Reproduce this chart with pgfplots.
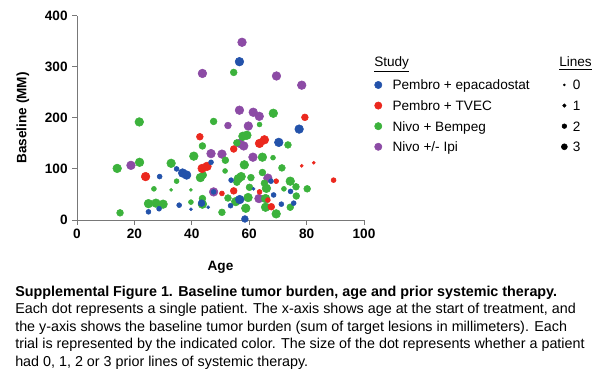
\documentclass[border=0pt]{standalone}
\usepackage{fontspec}
\setmainfont{Liberation Sans}
\usepackage{pgfplots}
\usepackage{pgfplotstable}
\pgfplotsset{compat=1.18}
\definecolor{cBlue}{RGB}{35,82,170}
\definecolor{cRed}{RGB}{235,40,30}
\definecolor{cGreen}{RGB}{60,178,60}
\definecolor{cPurple}{RGB}{140,75,165}
\definecolor{axgray}{RGB}{120,120,120}

\pgfplotstableread{
x y s
56.6 310 3
46.7 113 1
34.7 100 1
36.8 92 3
38.2 88 3
28.8 85 1
47.6 55 1
35.6 29 1
45.7 25 0
28.6 22 1
24.9 16 1
39.7 21 0
53.7 78 1
43.4 33 2
53.5 28 1
56.7 40 3
70.3 152 3
77.4 178 3
67.6 76 1
61.5 61 0
74.4 56 1
68.5 49 1
75.5 33 1
71.2 31 1
58.5 2 2
}\blue

\pgfplotstableread{
x y s
42.8 163 2
43.6 101 3
45.3 105 3
23.9 85 3
54.6 139 2
63.6 150 3
65.3 157 3
79.4 201 2
78.3 106 0
82.5 112 0
89.4 78 1
69.4 76 1
50.5 52 1
54.6 57 2
63.6 55 1
66.5 39 1
67.7 26 2
}\red

\pgfplotstableread{
x y s
21.7 192 3
47.6 193 2
54.6 289 2
68.4 209 3
43.7 145 2
40.7 125 3
32.8 111 3
21.8 113 3
14.0 101 3
43.0 83 3
44.0 88 2
34.7 76 1
26.8 61 1
32.8 59 0
39.7 59 0
43.7 42 2
39.7 35 1
24.9 32 3
27.5 33 3
30.0 31 3
43.7 31 3
15.0 14 2
51.7 117 2
51.6 96 1
55.7 74 2
52.6 43 2
50.5 15 2
63.6 187 1
57.8 164 3
59.2 166 3
55.7 151 2
73.5 147 2
64.6 123 3
68.3 122 1
58.3 108 3
71.4 102 2
64.6 93 2
56.2 81 3
57.2 85 3
60.6 83 2
74.3 76 3
65.3 72 2
60.1 64 2
66.0 62 3
72.1 61 1
76.3 65 2
59.6 44 3
65.7 42 3
55.3 36 3
65.7 25 3
74.3 25 2
80.2 61 2
76.4 47 2
69.4 12 3
58.8 23 3
}\green

\pgfplotstableread{
x y s
43.7 287 3
57.5 348 3
69.5 282 3
78.3 264 3
56.6 215 3
61.4 211 3
63.5 203 3
46.7 130 3
18.8 107 3
47.6 55 3
52.6 185 2
50.5 129 3
59.7 184 3
56.7 150 3
58.1 145 3
61.3 123 3
66.5 82 3
63.4 42 3
}\purple

\pgfplotsset{dots/.style={scatter, only marks, mark=*,
  scatter/use mapped color={draw=#1, fill=#1},
  visualization depends on={\thisrow{s} \as \msz},
  scatter/@pre marker code/.append style={/tikz/mark size={1.15pt+0.7pt*\msz}},
  forget plot}}

\newcommand{\fs}{\fontsize{10.2pt}{12pt}\selectfont}
\newcommand{\fc}{\fontsize{10.75pt}{12pt}\selectfont}
\begin{document}
\begin{tikzpicture}
\useasboundingbox (0,0) rectangle (450pt,279.75pt);
\begin{axis}[
 at={(57.75pt,114.75pt)}, anchor=south west,
 scale only axis, width=215.25pt, height=153.2pt,
 xmin=0, xmax=100, ymin=0, ymax=400,
 xtick={0,20,...,100}, ytick={0,100,...,400},
 axis x line*=bottom, axis y line*=left,
 axis line style={axgray, line width=0.7pt},
 major tick style={axgray, line width=0.7pt},
 tick align=outside, major tick length=3.5pt,
 /pgf/number format/assume math mode=true,
 tick label style={font=\fs\bfseries},
 xlabel={Age}, ylabel={Baseline (MM)},
 label style={font=\fs\bfseries},
 xlabel style={at={(axis description cs:0.5,-0.230)}, anchor=center},
 ylabel style={at={(axis description cs:-0.189,0.5)}, anchor=center},
 clip=false,
 legend columns=2,
 legend style={draw=none, fill=none, inner sep=0pt, outer sep=0pt,
   at={(1.0361,0.6848)}, anchor=north west, font=\fs,
   row sep=8.15pt,
   nodes={inner sep=0pt, text height=7.3pt, text depth=0pt},
   /tikz/column 1/.style={column sep=7.76pt},
   /tikz/column 2/.style={column sep=23.5pt},
   /tikz/column 3/.style={column sep=4pt}},
 legend cell align=left,
]
\addplot[dots=cPurple] table[x=x,y=y] {\purple};
\addplot[dots=cGreen] table[x=x,y=y] {\green};
\addplot[dots=cRed] table[x=x,y=y] {\red};
\addplot[dots=cBlue] table[x=x,y=y] {\blue};

\addlegendimage{legend image code/.code={\fill[cBlue] (0pt,0pt) circle (2.74pt);}}
\addlegendentry{Pembro + epacadostat}
\addlegendimage{legend image code/.code={\fill[black] (0pt,0pt) circle (0.75pt);}}
\addlegendentry{0}
\addlegendimage{legend image code/.code={\fill[cRed] (0pt,0pt) circle (2.74pt);}}
\addlegendentry{Pembro + TVEC}
\addlegendimage{legend image code/.code={\fill[black] (0pt,0pt) circle (1.3pt);}}
\addlegendentry{1}
\addlegendimage{legend image code/.code={\fill[cGreen] (0pt,0pt) circle (2.74pt);}}
\addlegendentry{Nivo + Bempeg}
\addlegendimage{legend image code/.code={\fill[black] (0pt,0pt) circle (1.75pt);}}
\addlegendentry{2}
\addlegendimage{legend image code/.code={\fill[cPurple] (0pt,0pt) circle (2.74pt);}}
\addlegendentry{Nivo +/- Ipi}
\addlegendimage{legend image code/.code={\fill[black] (0pt,0pt) circle (2.25pt);}}
\addlegendentry{3}
\end{axis}
\node[anchor=base west, inner sep=0pt, font=\fs] at (280.5pt,229.5pt) {\underline{Study}};
\node[anchor=base west, inner sep=0pt, font=\fs] at (419.25pt,229.5pt) {\underline{Lines}};
\begin{scope}[every node/.style={anchor=base west, inner sep=0pt, font=\fc}]
\node at (11.25pt,57.5pt) {\bfseries Supplemental Figure 1. Baseline tumor burden, age and prior systemic therapy.};
\node at (11.25pt,44.4pt) {Each dot represents a single patient. The x-axis shows age at the start of treatment, and};
\node at (11.25pt,31.3pt) {the y-axis shows the baseline tumor burden (sum of target lesions in millimeters). Each};
\node at (11.25pt,18.2pt) {trial is represented by the indicated color. The size of the dot represents whether a patient};
\node at (11.25pt,5.1pt) {had 0, 1, 2 or 3 prior lines of systemic therapy.};
\end{scope}
\end{tikzpicture}
\end{document}
